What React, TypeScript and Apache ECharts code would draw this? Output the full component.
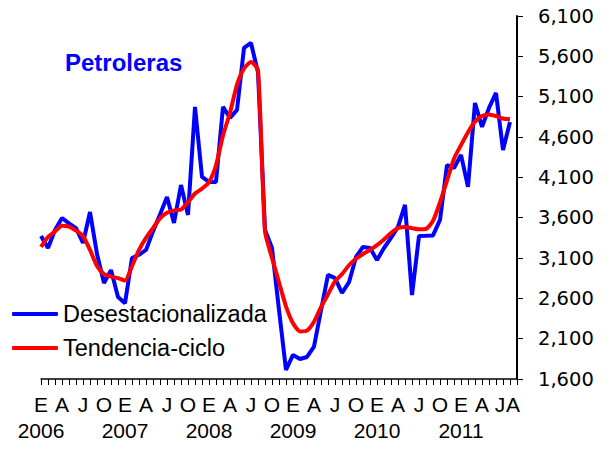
import React, { useEffect, useRef } from "react";
import * as echarts from "echarts";

const monthLetters = ["E", "F", "M", "A", "M", "J", "J", "A", "S", "O", "N", "D"];
const years = [2006, 2007, 2008, 2009, 2010, 2011];
const yTicks = { min: 1600, max: 6100, step: 500 };

const desestacionalizada = [
  3373, 3224, 3448, 3596, 3530, 3470, 3286, 3670, 3150, 2790, 2950, 2617,
  2540, 3100, 3140, 3200, 3430, 3640, 3857, 3534, 4005, 3634, 4973, 4105,
  4043, 4043, 4973, 4836, 4936, 5704, 5766, 5400, 3448, 3224, 2456, 1712,
  1898, 1848, 1873, 2000, 2450, 2890, 2850, 2666, 2800, 3113, 3237, 3224,
  3075, 3224, 3350, 3485, 3758, 2641, 3373, 3375, 3380, 3572, 4253, 4216,
  4378, 3981, 5022, 4725, 4960, 5146, 4440, 4787,
];

const tendenciaCiclo = [
  3237, 3360, 3430, 3500, 3490, 3440, 3373, 3200, 3000, 2900, 2870, 2850,
  2820, 3000, 3200, 3350, 3470, 3590, 3660, 3690, 3700, 3790, 3900, 3960,
  4040, 4250, 4620, 4900, 5250, 5450, 5530, 5430, 3430, 3100, 2800, 2500,
  2290, 2190, 2200, 2310, 2490, 2650, 2810, 2900, 3010, 3090, 3150, 3200,
  3260, 3330, 3410, 3470, 3485, 3470, 3455, 3460, 3560, 3790, 4060, 4330,
  4500, 4660, 4790, 4860, 4880, 4860, 4830, 4820,
];

// one category per month, Jan 2006 .. Aug 2011, plus one empty slot closing the axis
const categories: string[] = [];
years.forEach((y) => {
  monthLetters.forEach((m, i) => {
    categories.push(i === 0 ? m + "\n" + y : m);
  });
});
categories.length = desestacionalizada.length;
categories.push("");

const SANS = "Liberation Sans";
const WIDE = "DejaVu Sans";

export default function App() {
  const ref = useRef<HTMLDivElement>(null);
  useEffect(() => {
    if (!ref.current) return;
    const chart = echarts.init(ref.current, undefined, { renderer: "svg" });
    const last = desestacionalizada.length - 1;
    chart.setOption({
      animation: false,
      title: {
        text: "Petroleras",
        left: 65,
        top: 50,
        padding: 0,
        textStyle: { fontFamily: SANS, fontWeight: "bold", fontSize: 24, color: "#0000FF" },
      },
      legend: {
        orient: "vertical",
        left: 12,
        top: 301,
        padding: 0,
        icon: "roundRect",
        itemWidth: 46,
        itemHeight: 4,
        itemGap: 8,
        textStyle: { fontFamily: SANS, fontSize: 23.5, color: "#000", lineHeight: 26 },
        data: ["Desestacionalizada", "Tendencia-ciclo"],
      },
      grid: { left: 41, right: 93, top: 16, bottom: 70, containLabel: false },
      xAxis: {
        type: "category",
        boundaryGap: false,
        data: categories,
        axisLine: { lineStyle: { color: "#000", width: 1.5 } },
        axisTick: { show: true, interval: 0, length: 6, lineStyle: { color: "#000", width: 1 } },
        axisLabel: {
          interval: 0,
          hideOverlap: false,
          margin: 12,
          fontFamily: SANS,
          fontSize: 21,
          color: "#000",
          lineHeight: 26,
          formatter: (v: string, index: number) => {
            if (index === last) return "{a|" + v + "}";
            if (index === last - 1) return "{j|" + v + "}";
            return index % 3 === 0 ? v : "";
          },
          rich: {
            a: { fontFamily: SANS, fontSize: 21, color: "#000", padding: [0, 0, 0, 6], lineHeight: 26 },
            j: { fontFamily: SANS, fontSize: 21, color: "#000", padding: [0, 6, 0, 0], lineHeight: 26 },
          },
        },
        splitLine: { show: false },
      },
      yAxis: {
        type: "value",
        position: "right",
        min: yTicks.min,
        max: yTicks.max,
        interval: yTicks.step,
        axisLine: { show: true, lineStyle: { color: "#000", width: 2 } },
        axisTick: { show: true, length: 6, lineStyle: { color: "#000", width: 1 } },
        axisLabel: {
          margin: 21,
          fontFamily: WIDE,
          fontSize: 19.5,
          color: "#000",
          formatter: (v: number) => v.toLocaleString("en-US"),
        },
        splitLine: { show: false },
      },
      series: [
        {
          name: "Desestacionalizada",
          type: "line",
          data: desestacionalizada,
          symbol: "none",
          lineStyle: { color: "#0000FF", width: 4 },
          itemStyle: { color: "#0000FF" },
          z: 2,
        },
        {
          name: "Tendencia-ciclo",
          type: "line",
          data: tendenciaCiclo,
          symbol: "none",
          smooth: 0.2,
          lineStyle: { color: "#FF0000", width: 4 },
          itemStyle: { color: "#FF0000" },
          z: 3,
        },
      ],
    });
    return () => chart.dispose();
  }, []);
  return (
    <div
      ref={ref}
      style={{ position: "absolute", left: 0, top: 0, width: 610, height: 449 }}
    />
  );
}
